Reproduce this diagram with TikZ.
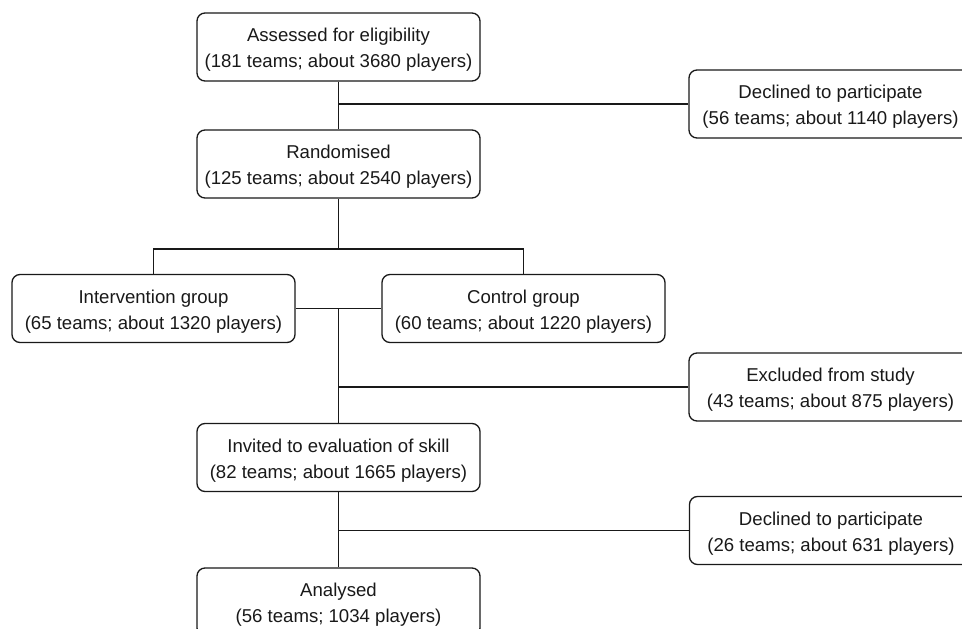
\documentclass[tikz,border=0pt]{standalone}
\usepackage{fontspec}
\setmainfont{Liberation Sans}
\newcommand{\toppad}{\rule{0pt}{19.6pt}}
\begin{document}
\begin{tikzpicture}[x=1pt,y=-1pt,
  fbox/.style={draw=black!90, line width=1.3pt, rounded corners=8pt,
    minimum width=283pt, minimum height=68pt, inner sep=0pt,
    align=center, text=black!90, font=\fontsize{18.6}{26}\selectfont},
  conn/.style={draw=black!90, line width=1.3pt}]
\useasboundingbox (0,0) rectangle (962,629);
\clip (0,0) rectangle (962,629);
\node[fbox] (A) at (338.5,47) {\toppad Assessed for eligibility\\(181 teams; about 3680 players)};
\node[fbox] (B) at (338.5,164) {\toppad Randomised\\(125 teams; about 2540 players)};
\node[fbox] (D1) at (830.5,104) {\toppad Declined to participate\\(56 teams; about 1140 players)};
\node[fbox] (I) at (153.5,308.5) {\toppad Intervention group\\(65 teams; about 1320 players)};
\node[fbox] (C) at (523.5,308.5) {\toppad Control group\\(60 teams; about 1220 players)};
\node[fbox] (E) at (830.5,387) {\toppad Excluded from study\\(43 teams; about 875 players)};
\node[fbox] (V) at (338.5,457.5) {\toppad Invited to evaluation of skill\\(82 teams; about 1665 players)};
\node[fbox] (D2) at (831,530.5) {\toppad Declined to participate\\(26 teams; about 631 players)};
\node[fbox] (N) at (338.5,602) {\toppad Analysed\\(56 teams; 1034 players)};
\coordinate (j1) at (338.5,104);
\coordinate (j2) at (338.5,249);
\coordinate (j3) at (338.5,308.5);
\coordinate (j4) at (338.5,387);
\coordinate (j5) at (338.5,530.5);
\draw[conn] (A.south) -- (B.north);
\draw[conn] (j1) -- (D1.west);
\draw[conn] (B.south) -- (j2);
\draw[conn] (I.north) -- (I.north |- j2) -| (C.north);
\draw[conn] (I.east) -- (C.west);
\draw[conn] (j3) -- (V.north);
\draw[conn] (j4) -- (E.west);
\draw[conn] (V.south) -- (N.north);
\draw[conn] (j5) -- (D2.west);
\end{tikzpicture}
\end{document}
